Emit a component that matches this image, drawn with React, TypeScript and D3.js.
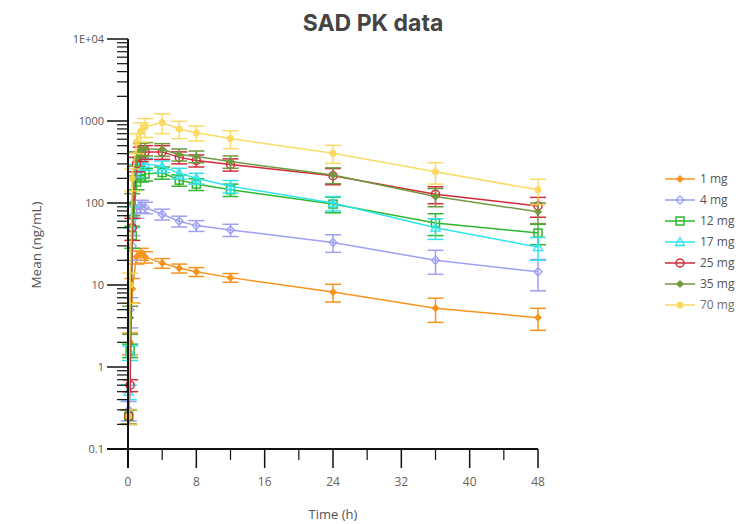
import React from "react";
import * as d3 from "d3";

const times = [0.083, 0.25, 0.5, 1, 1.5, 2, 4, 6, 8, 12, 24, 36, 48];
const seriesNames = ["1 mg", "4 mg", "12 mg", "17 mg", "25 mg", "35 mg", "70 mg"];
const mean1 = [0.25, 2, 9, 22, 24, 22, 18.5, 16, 14.5, 12.3, 8.2, 5.2, 4.0];
const sd1 = [0.05, 0.6, 3, 4, 4, 3.5, 2.5, 2, 1.8, 1.5, 2, 1.7, 1.2];
const mean4 = [0.3, 5, 30, 80, 92, 88, 73, 60, 53, 47, 33, 20, 14.5];
const sd4 = [0.08, 2, 10, 15, 16, 14, 11, 9, 8, 8, 8, 6.5, 6];
const mean12 = [0.25, 1.6, 40, 180, 220, 225, 235, 190, 170, 145, 97, 57, 43];
const sd12 = [0.05, 0.3, 12, 35, 40, 40, 40, 30, 28, 25, 21, 17, 12];
const mean17 = [0.5, 1.5, 70, 250, 300, 300, 280, 230, 200, 160, 100, 50, 29];
const sd17 = [0.1, 0.3, 20, 45, 50, 50, 45, 35, 30, 28, 20, 14, 9];
const mean25 = [0.25, 0.6, 50, 300, 400, 420, 420, 360, 330, 295, 215, 128, 92];
const sd25 = [0.05, 0.1, 15, 60, 80, 80, 80, 60, 55, 50, 48, 30, 25];
const mean35 = [0.25, 4, 100, 350, 450, 460, 450, 390, 370, 320, 220, 120, 78];
const sd35 = [0.05, 1.5, 30, 70, 85, 85, 80, 65, 60, 55, 48, 30, 22];
const mean70 = [0.25, 10, 200, 550, 750, 850, 960, 800, 720, 610, 405, 240, 145];
const sd70 = [0.05, 4, 60, 150, 200, 220, 260, 190, 150, 150, 100, 70, 50];
const means = [mean1, mean4, mean12, mean17, mean25, mean35, mean70];
const sds = [sd1, sd4, sd12, sd17, sd25, sd35, sd70];
const colors = ["#f7941d", "#9f9ff5", "#2fb82f", "#2fe3ef", "#d12a3c", "#6f9a3e", "#f9d54a"];
const markers = ["diamondFill", "diamondOpen", "squareOpen", "triangleOpen", "circleOpen", "diamondFill", "circleFill"];
const xTicks = [0, 8, 16, 24, 32, 40, 48];
const xMinor = [4, 12, 20, 28, 36, 44];
const yTicks = [0.1, 1, 10, 100, 1000, 10000];
const yTickLabels = ["0.1", "1", "10", "100", "1000", "1E+04"];

const W = 739, H = 524;
const x = d3.scaleLinear().domain([0, 48]).range([128, 538]);
const y = d3.scaleLog().domain([0.1, 10000]).range([449, 39]);

function Marker({ kind, cx, cy, color }: { kind: string; cx: number; cy: number; color: string }) {
  if (kind === "diamondFill")
    return <path d={`M${cx},${cy - 3.5}L${cx + 3.5},${cy}L${cx},${cy + 3.5}L${cx - 3.5},${cy}Z`} fill={color} stroke={color} strokeWidth={1} />;
  if (kind === "diamondOpen")
    return <path d={`M${cx},${cy - 4}L${cx + 4},${cy}L${cx},${cy + 4}L${cx - 4},${cy}Z`} fill="none" stroke={color} strokeWidth={1.3} />;
  if (kind === "circleOpen") return <circle cx={cx} cy={cy} r={4} fill="none" stroke={color} strokeWidth={1.5} />;
  if (kind === "circleFill") return <circle cx={cx} cy={cy} r={3.5} fill={color} />;
  if (kind === "squareOpen") return <rect x={cx - 4} y={cy - 4} width={8} height={8} fill="none" stroke={color} strokeWidth={1.5} />;
  if (kind === "triangleOpen")
    return <path d={`M${cx},${cy - 4.5}L${cx + 4.5},${cy + 3.5}L${cx - 4.5},${cy + 3.5}Z`} fill="none" stroke={color} strokeWidth={1.3} />;
  return null;
}

export default function App() {
  const line = d3.line<[number, number]>().x((d) => x(d[0])).y((d) => y(d[1]));
  const minorY: number[] = [];
  for (let e = -1; e < 4; e++) for (let k = 2; k <= 9; k++) minorY.push(k * Math.pow(10, e));
  const fontAxis = "'Open Sans', 'DejaVu Sans', sans-serif";
  return (
    <svg width={W} height={H} style={{ position: "absolute", left: 0, top: 0, background: "#fff" }}>
      <text x={373} y={31} textAnchor="middle" fontFamily="Inter, Roboto, sans-serif" fontWeight={700} fontSize={23} fill="#444">SAD PK data</text>
      {means.map((m, si) => {
        const pts = m.map((v, i) => [times[i], v] as [number, number]);
        const c = colors[si];
        return (
          <g key={si} opacity={si === 6 ? 0.85 : 1}>
            <path d={line(pts) || ""} fill="none" stroke={c} strokeWidth={1.5} />
            {m.map((v, i) => {
              const lo = Math.max(v - sds[si][i], 0.11);
              const hi = v + sds[si][i];
              const cx = x(times[i]);
              return (
                <g key={i} stroke={c} strokeWidth={1.5}>
                  <line x1={cx} x2={cx} y1={y(lo)} y2={y(hi)} />
                  <line x1={cx - 8} x2={cx + 8} y1={y(hi)} y2={y(hi)} />
                  <line x1={cx - 8} x2={cx + 8} y1={y(lo)} y2={y(lo)} />
                </g>
              );
            })}
            {m.map((v, i) => (
              <Marker key={"m" + i} kind={markers[si]} cx={x(times[i])} cy={y(v)} color={c} />
            ))}
          </g>
        );
      })}
      <line x1={128} x2={128} y1={39} y2={468} stroke="#111" strokeWidth={2} />
      <line x1={107} x2={538} y1={449} y2={449} stroke="#111" strokeWidth={2} />
      {yTicks.map((t, i) => (
        <g key={t}>
          <line x1={107} x2={128} y1={y(t)} y2={y(t)} stroke="#111" strokeWidth={1.5} />
          <text x={104} y={y(t)} dy="0.35em" textAnchor="end" fontFamily={fontAxis} fontSize={11} fill="#555">{yTickLabels[i]}</text>
        </g>
      ))}
      {minorY.map((t) => (
        <line key={t} x1={117} x2={128} y1={y(t)} y2={y(t)} stroke="#111" strokeWidth={1.2} />
      ))}
      {xTicks.map((t) => (
        <g key={t}>
          <line x1={x(t)} x2={x(t)} y1={449} y2={468} stroke="#111" strokeWidth={1.5} />
          <text x={x(t)} y={486} textAnchor="middle" fontFamily={fontAxis} fontSize={12} fill="#6b6355">{t}</text>
        </g>
      ))}
      {xMinor.map((t) => (
        <line key={t} x1={x(t)} x2={x(t)} y1={449} y2={460} stroke="#111" strokeWidth={1.2} />
      ))}
      <text x={333} y={514} dy="0.35em" textAnchor="middle" fontFamily={fontAxis} fontSize={13} fill="#555">Time (h)</text>
      <text transform="translate(41,245) rotate(-90)" textAnchor="middle" fontFamily={fontAxis} fontSize={13.5} fill="#555">Mean (ng/mL)</text>
      {seriesNames.map((n, i) => {
        const ly = 179 + i * 21;
        return (
          <g key={n} opacity={i === 6 ? 0.85 : 1}>
            <line x1={665} x2={695} y1={ly} y2={ly} stroke={colors[i]} strokeWidth={1.5} />
            <Marker kind={markers[i]} cx={680} cy={ly} color={colors[i]} />
            <text x={700} y={ly} dy="0.35em" fontFamily={fontAxis} fontSize={12} fill="#555">{n}</text>
          </g>
        );
      })}
    </svg>
  );
}
